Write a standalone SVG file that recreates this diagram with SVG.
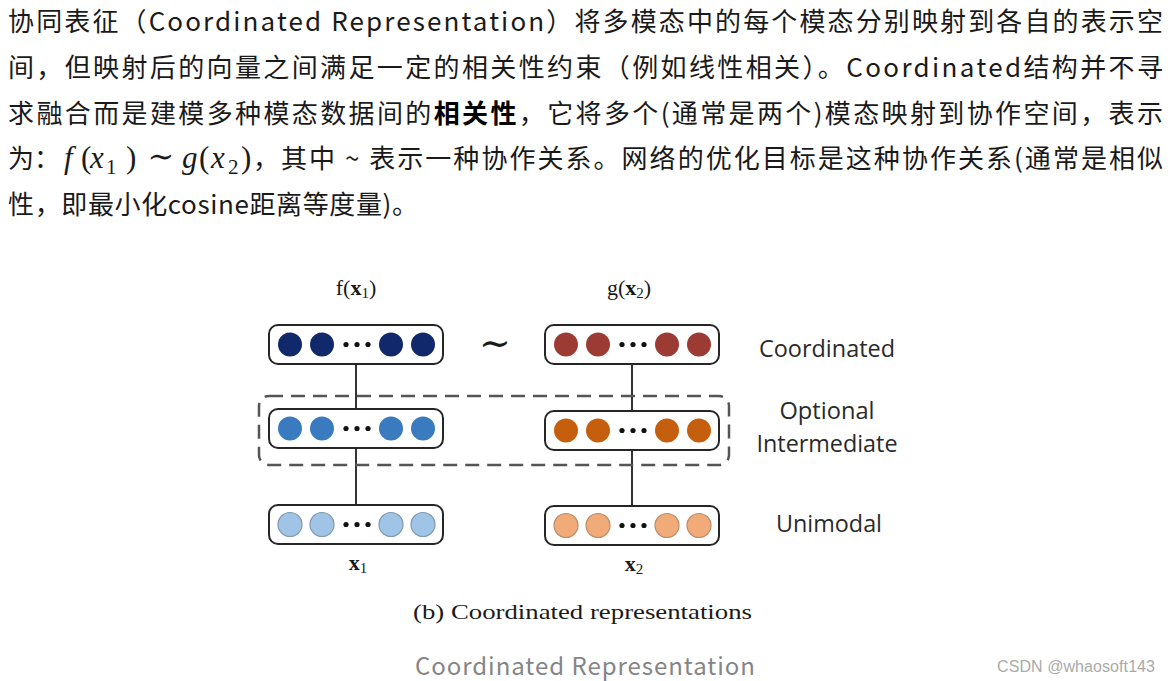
<svg xmlns="http://www.w3.org/2000/svg" width="1171" height="681" viewBox="0 0 1171 681">
<style>
.t{font-family:"Noto Sans CJK SC","Noto Sans",sans-serif;font-size:26px;fill:#1a1a1a}
.m{font-family:"Liberation Serif","DejaVu Serif",serif;font-size:31px;fill:#1a1a1a;font-style:italic}
.mn{font-family:"Liberation Serif","DejaVu Serif",serif;fill:#1a1a1a}
.lab{font-family:"Open Sans","Noto Sans",sans-serif;font-size:23px;fill:#2a2a2a;text-anchor:middle}
.ser{font-family:"Liberation Serif","DejaVu Serif",serif;font-size:22px;fill:#1a1a1a}
.box{fill:#fff;stroke:#262626;stroke-width:2}
.ln{stroke:#333;stroke-width:2;fill:none}
.dot{fill:#111}
.c1{fill:#11296a}
.c2{fill:#9c3b33}
.c3{fill:#3a7bbf}
.c4{fill:#c65f0d}
.c5{fill:#a0c4e6;stroke:#8199b3;stroke-width:1.2}
.c6{fill:#f0ab78;stroke:#c08a6a;stroke-width:1.2}
</style>
<defs>
<g id="row">
<rect class="box" x="0" y="0" width="174" height="39" rx="9"/>
<circle class="dot" cx="77" cy="19.5" r="2.6"/>
<circle class="dot" cx="88" cy="19.5" r="2.6"/>
<circle class="dot" cx="99" cy="19.5" r="2.6"/>
</g>
</defs>
<rect width="1171" height="681" fill="#fff"/>

<g id="paragraph">
<text class="t" x="8" y="31" textLength="1155" lengthAdjust="spacing">协同表征（Coordinated Representation）将多模态中的每个模态分别映射到各自的表示空</text>
<text class="t" x="8" y="77" textLength="1155" lengthAdjust="spacing">间，但映射后的向量之间满足一定的相关性约束（例如线性相关）。Coordinated结构并不寻</text>
<text class="t" x="8" y="123" textLength="1155" lengthAdjust="spacing">求融合而是建模多种模态数据间的<tspan font-weight="bold" fill="#000">相关性</tspan>，它将多个(通常是两个)模态映射到协作空间，表示</text>
<text class="t" x="8" y="168">为：</text>
<text class="m" x="64" y="168">f</text>
<text class="mn" x="81" y="168" font-size="31">(</text>
<text class="m" x="90" y="168">x</text>
<text class="mn" x="106" y="174" font-size="21">1</text>
<text class="mn" x="126" y="168" font-size="31">)</text>
<text class="mn" x="161" y="167" font-size="32" text-anchor="middle">∼</text>
<text class="m" x="182" y="168">g</text>
<text class="mn" x="199" y="168" font-size="31">(</text>
<text class="m" x="211" y="168">x</text>
<text class="mn" x="228" y="174" font-size="21">2</text>
<text class="mn" x="241" y="168" font-size="31">)</text>
<text class="t" x="253" y="168" textLength="910" lengthAdjust="spacing">，其中 ~ 表示一种协作关系。网络的优化目标是这种协作关系(通常是相似</text>
<text class="t" x="8" y="214" textLength="410" lengthAdjust="spacing">性，即最小化cosine距离等度量)。</text>
</g>

<g id="connectors">
<line class="ln" x1="356" y1="364" x2="356" y2="409"/>
<line class="ln" x1="356" y1="448" x2="356" y2="505"/>
<line class="ln" x1="632" y1="364" x2="632" y2="411"/>
<line class="ln" x1="632" y1="449" x2="632" y2="506"/>
</g>

<g id="optional-group">
<rect x="259" y="396" width="470" height="69" rx="10" fill="none" stroke="#555" stroke-width="2.5" stroke-dasharray="14 8"/>
</g>

<g id="node-f-top">
<use href="#row" x="269" y="325"/>
<circle class="c1" cx="290" cy="344.5" r="12"/>
<circle class="c1" cx="322" cy="344.5" r="12"/>
<circle class="c1" cx="391" cy="344.5" r="12"/>
<circle class="c1" cx="423" cy="344.5" r="12"/>
</g>
<g id="node-g-top">
<use href="#row" x="545" y="325"/>
<circle class="c2" cx="566" cy="344.5" r="12"/>
<circle class="c2" cx="598" cy="344.5" r="12"/>
<circle class="c2" cx="667" cy="344.5" r="12"/>
<circle class="c2" cx="699" cy="344.5" r="12"/>
</g>
<g id="node-f-mid">
<use href="#row" x="269" y="409"/>
<circle class="c3" cx="290" cy="428.5" r="12"/>
<circle class="c3" cx="322" cy="428.5" r="12"/>
<circle class="c3" cx="391" cy="428.5" r="12"/>
<circle class="c3" cx="423" cy="428.5" r="12"/>
</g>
<g id="node-g-mid">
<use href="#row" x="545" y="411"/>
<circle class="c4" cx="566" cy="430.5" r="12"/>
<circle class="c4" cx="598" cy="430.5" r="12"/>
<circle class="c4" cx="667" cy="430.5" r="12"/>
<circle class="c4" cx="699" cy="430.5" r="12"/>
</g>
<g id="node-x1">
<use href="#row" x="269" y="505"/>
<circle class="c5" cx="290" cy="524.5" r="12"/>
<circle class="c5" cx="322" cy="524.5" r="12"/>
<circle class="c5" cx="391" cy="524.5" r="12"/>
<circle class="c5" cx="423" cy="524.5" r="12"/>
</g>
<g id="node-x2">
<use href="#row" x="545" y="506"/>
<circle class="c6" cx="566" cy="525.5" r="12"/>
<circle class="c6" cx="598" cy="525.5" r="12"/>
<circle class="c6" cx="667" cy="525.5" r="12"/>
<circle class="c6" cx="699" cy="525.5" r="12"/>
</g>

<g id="diagram-labels">
<text class="ser" x="356" y="295" font-size="23" text-anchor="middle">f(<tspan font-weight="bold">x</tspan><tspan font-size="15" dy="3">1</tspan><tspan dy="-3">)</tspan></text>
<text class="ser" x="629" y="295" font-size="23" text-anchor="middle">g(<tspan font-weight="bold">x</tspan><tspan font-size="15" dy="3">2</tspan><tspan dy="-3">)</tspan></text>
<text class="mn" x="495" y="356" font-size="38" text-anchor="middle">∼</text>
<text class="ser" x="358" y="570" font-size="24" text-anchor="middle"><tspan font-weight="bold">x</tspan><tspan font-size="15" dy="3">1</tspan></text>
<text class="ser" x="634" y="571" font-size="24" text-anchor="middle"><tspan font-weight="bold">x</tspan><tspan font-size="15" dy="3">2</tspan></text>
<text class="lab" x="827" y="357" textLength="136" lengthAdjust="spacingAndGlyphs">Coordinated</text>
<text class="lab" x="827" y="419" textLength="95" lengthAdjust="spacingAndGlyphs">Optional</text>
<text class="lab" x="827" y="452" textLength="141" lengthAdjust="spacingAndGlyphs">Intermediate</text>
<text class="lab" x="829" y="532" textLength="106" lengthAdjust="spacingAndGlyphs">Unimodal</text>
<text class="ser" x="413" y="619" font-size="25" textLength="339" lengthAdjust="spacingAndGlyphs">(b) Coordinated representations</text>
</g>

<g id="captions">
<text x="415" y="675" font-family="Noto Sans CJK SC, Noto Sans, sans-serif" font-size="24" fill="#858585" textLength="340" lengthAdjust="spacing">Coordinated Representation</text>
<text x="997" y="672" font-family="Liberation Sans, Arial, sans-serif" font-size="16" fill="#aaaaaa" textLength="158" lengthAdjust="spacing">CSDN @whaosoft143</text>
</g>
</svg>
